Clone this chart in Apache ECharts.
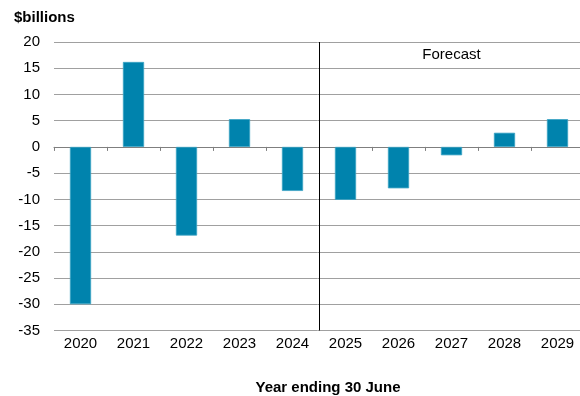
<!DOCTYPE html>
<html>
<head>
<meta charset="utf-8">
<script src="https://cdn.jsdelivr.net/npm/echarts@6/dist/echarts.min.js"></script>
<style>
  html, body { margin: 0; padding: 0; background: #fff; }
  #chart { width: 580px; height: 396px; }
</style>
</head>
<body>
<div id="chart"></div>
<script>
// Budget balance by financial year, $ billions (2025 onward is forecast)
const years = ['2020', '2021', '2022', '2023', '2024', '2025', '2026', '2027', '2028', '2029'];
const balance = [-30.0, 16.2, -16.9, 5.3, -8.4, -10.1, -7.9, -1.6, 2.7, 5.3];
const forecastStart = 5; // index of first forecast year
const yTicks = { min: -35, max: 20, step: 5 };

const font = 'Arial, "Liberation Sans", sans-serif';
const chart = echarts.init(document.getElementById('chart'));

chart.setOption({
  animation: false,
  backgroundColor: '#fff',
  title: [
    {
      text: '$billions',
      left: 14,
      top: 10,
      padding: 0,
      textStyle: { fontFamily: font, fontSize: 15, fontWeight: 'bold', color: '#000' }
    },
    {
      text: 'Year ending 30 June',
      left: 328,
      top: 380,
      padding: 0,
      textAlign: 'center',
      textStyle: { fontFamily: font, fontSize: 15, fontWeight: 'bold', color: '#000' }
    }
  ],
  // plot runs slightly past the right edge of the canvas
  grid: { left: 54, width: 530, top: 42, bottom: 65.5, outerBoundsMode: 'none', containLabel: false },
  xAxis: [
    {
      // axis line and ticks drawn along zero
      type: 'category',
      data: years,
      axisLine: { onZero: true, lineStyle: { color: '#7f7f7f', width: 1 } },
      axisTick: { show: true, alignWithLabel: false, length: 4, lineStyle: { color: '#7f7f7f' } },
      axisLabel: { show: false },
      splitLine: { show: false }
    },
    {
      // year labels along the bottom
      type: 'category',
      data: years,
      position: 'bottom',
      axisLine: { show: false, onZero: false },
      axisTick: { show: false },
      axisLabel: { margin: 6, fontFamily: font, fontSize: 15, color: '#000' }
    },
    {
      // continuous helper axis for the forecast divider
      type: 'value',
      min: 0,
      max: years.length,
      show: false
    }
  ],
  yAxis: {
    type: 'value',
    min: yTicks.min,
    max: yTicks.max,
    interval: yTicks.step,
    axisLine: { show: false },
    axisTick: { show: false },
    axisLabel: { margin: 14, fontFamily: font, fontSize: 15, color: '#000' },
    splitLine: { lineStyle: { color: '#a0a0a0', width: 1 } }
  },
  series: [
    {
      type: 'bar',
      xAxisIndex: 0,
      data: balance,
      barWidth: '40%',
      itemStyle: { color: '#0083ad', borderColor: '#3ba3c4', borderWidth: 0.8 }
    },
    {
      type: 'scatter',
      xAxisIndex: 2,
      data: [],
      silent: true,
      markLine: {
        silent: true,
        symbol: 'none',
        label: { show: false },
        lineStyle: { color: '#000', width: 1, type: 'solid' },
        data: [{ xAxis: forecastStart }]
      },
      markArea: {
        silent: true,
        itemStyle: { color: 'rgba(0,0,0,0)' },
        label: {
          show: true,
          position: 'insideTop',
          distance: 5,
          fontFamily: font,
          fontSize: 15,
          color: '#000'
        },
        data: [[{ name: 'Forecast', xAxis: forecastStart }, { xAxis: years.length }]]
      }
    }
  ]
});
</script>
</body>
</html>
